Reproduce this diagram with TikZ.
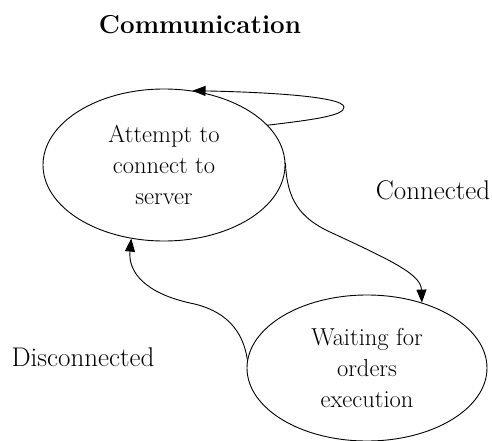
\documentclass[tikz,border=0pt]{standalone}
\usepackage{fontspec}
\usetikzlibrary{arrows.meta,positioning,shapes.geometric}

\begin{document}
\begin{tikzpicture}[x=1pt,y=-1pt,
		state/.style={draw,ellipse,line width=0.9pt,inner sep=0pt,align=center,
			minimum width=242pt,minimum height=152pt,font=\fontsize{24.5}{31}\selectfont},
		lbl/.style={font=\fontsize{27}{31}\selectfont},
		arr/.style={line width=0.9pt,-{Triangle[length=13pt,width=10pt]}}]
		
		\useasboundingbox (0,0) rectangle (492,441);
		
		\node[font=\bfseries\fontsize{26}{30}\selectfont] (title) at (200,25) {Communication};
		
		\node[state] (attempt) at (164,165) {Attempt to\\connect to\\server};
		\node[state,minimum width=240pt,minimum height=146pt] (waiting) at (367,368) {Waiting for\\orders\\execution};
		
		\node[lbl] (conn) at (433,190) {Connected};
		\node[lbl] (disc) at (83,357) {Disconnected};
		
		% retry loop
		\draw[arr] (attempt.21) .. controls (310,120) and (345,116) .. (344,107)
			.. controls (343,96) and (260,92) .. (attempt.69);
		
		\draw[arr] (attempt.1) .. controls (287,200) and (300,218) .. (330,232)
			.. controls (395,262) and (421,275) .. (waiting.50);
		
		\draw[arr] (waiting.176) .. controls (243,330) and (225,310) .. (190,303)
			.. controls (145,293) and (128,272) .. (attempt.246);
		
	\end{tikzpicture}
\end{document}
